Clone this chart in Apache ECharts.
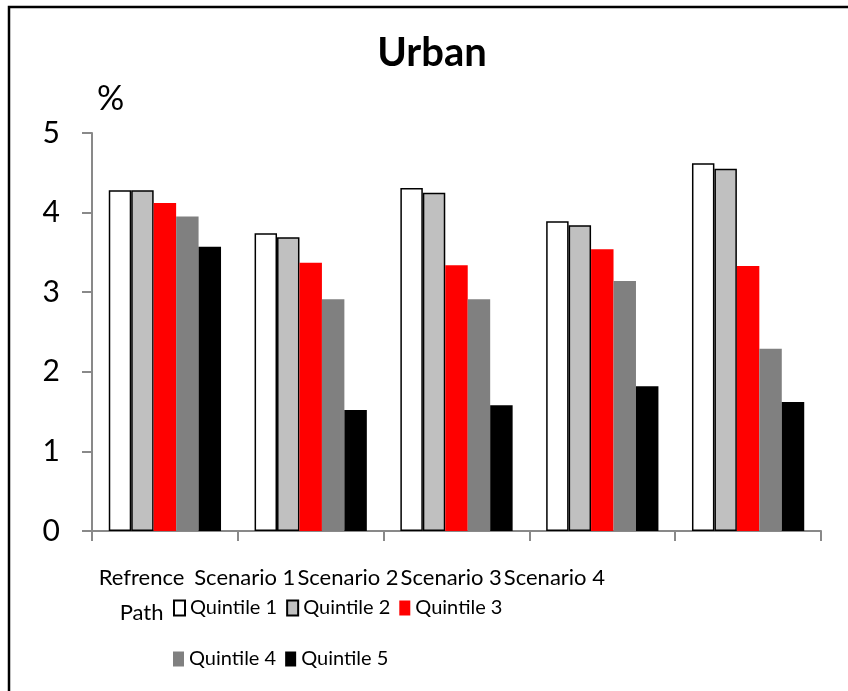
<!DOCTYPE html>
<html>
<head>
<meta charset="utf-8">
<script src="https://cdn.jsdelivr.net/npm/echarts@6/dist/echarts.min.js"></script>
<style>
    html, body { margin: 0; padding: 0; background: #fff; }
    #main { width: 848px; height: 691px; }
</style>
</head>
<body>
<div id="main"></div>
<script>
// data
var categories = ['Refrence\nPath', 'Scenario 1', 'Scenario 2', 'Scenario 3', 'Scenario 4'];
var seriesNames = ['Quintile 1', 'Quintile 2', 'Quintile 3', 'Quintile 4', 'Quintile 5'];
var quintile1 = [4.28, 3.74, 4.31, 3.89, 4.62];
var quintile2 = [4.28, 3.69, 4.25, 3.84, 4.55];
var quintile3 = [4.12, 3.37, 3.34, 3.54, 3.33];
var quintile4 = [3.95, 2.91, 2.91, 3.14, 2.29];
var quintile5 = [3.57, 1.52, 1.58, 1.82, 1.62];
var yTicks = [0, 1, 2, 3, 4, 5];

(function () {
    var myChart = echarts.init(document.getElementById('main'));
    var font = 'Lato, "Liberation Sans", sans-serif';
    var values = [quintile1, quintile2, quintile3, quintile4, quintile5];
    var fills = ['#ffffff', '#c0c0c0', '#ff0000', '#808080', '#000000'];
    var borders = ['#000000', '#000000', '#ff0000', '#808080', '#000000'];

    var series = seriesNames.map(function (name, i) {
        return {
            name: name,
            type: 'bar',
            xAxisIndex: 0,
            yAxisIndex: 0,
            barGap: '0%',
            barCategoryGap: '23%',
            itemStyle: {
                color: fills[i],
                borderColor: borders[i],
                borderWidth: i < 2 ? 1.5 : 0
            },
            data: values[i]
        };
    });

    var legendText = { color: '#000', fontSize: 20, fontFamily: font };

    var option = {
        animation: false,
        backgroundColor: '#fff',
        title: {
            text: 'Urban',
            left: 427,
            top: 28,
            textAlign: 'center',
            textStyle: { color: '#000', fontSize: 40, fontWeight: 'bold', fontFamily: font }
        },
        // outer frame of the chart box (only top and left edges are in view)
        graphic: [{
            type: 'polyline',
            shape: { points: [[9, 720], [9, 7], [880, 7]] },
            style: { fill: 'none', stroke: '#000', lineWidth: 2.5 }
        }],
        legend: [
            {
                data: seriesNames.slice(0, 3),
                left: 173,
                top: 598,
                padding: 0,
                itemGap: 9,
                itemWidth: 11,
                itemHeight: 15,
                icon: 'rect',
                textStyle: legendText
            },
            {
                data: seriesNames.slice(3),
                left: 173,
                top: 649,
                padding: 0,
                itemGap: 9,
                itemWidth: 11,
                itemHeight: 15,
                icon: 'rect',
                textStyle: legendText
            }
        ],
        grid: [
            { left: 92, right: 27, top: 133, bottom: 160 },
            // label strip: the category texts sit squeezed to the left like in the source
            { left: 90, width: 516, top: 133, bottom: 160 }
        ],
        xAxis: [
            {
                type: 'category',
                gridIndex: 0,
                data: categories,
                axisLine: { lineStyle: { color: '#898989', width: 2 } },
                axisTick: { show: true, length: 10, lineStyle: { color: '#898989', width: 2 } },
                axisLabel: { show: false }
            },
            {
                type: 'category',
                gridIndex: 1,
                data: categories,
                axisLine: { show: false },
                axisTick: { show: false },
                axisLabel: {
                    margin: 29,
                    color: '#000',
                    fontSize: 22,
                    lineHeight: 35,
                    fontFamily: font,
                    interval: 0
                }
            }
        ],
        yAxis: [
            {
                type: 'value',
                gridIndex: 0,
                min: yTicks[0],
                max: yTicks[yTicks.length - 1],
                interval: 1,
                name: '%',
                nameLocation: 'end',
                nameGap: 17,
                nameTextStyle: { color: '#000', fontSize: 34, fontFamily: font, align: 'left', padding: [0, 0, 0, 5] },
                axisLine: { show: true, lineStyle: { color: '#898989', width: 2 } },
                axisTick: { show: true, length: 10, lineStyle: { color: '#898989', width: 2 } },
                axisLabel: { margin: 32, color: '#000', fontSize: 30, fontFamily: font },
                splitLine: { show: false }
            },
            {
                type: 'value',
                gridIndex: 1,
                show: false
            }
        ],
        series: series
    };
    myChart.setOption(option);
    window.addEventListener('resize', function () {
        myChart.resize();
    });
})();
</script>
</body>
</html>
